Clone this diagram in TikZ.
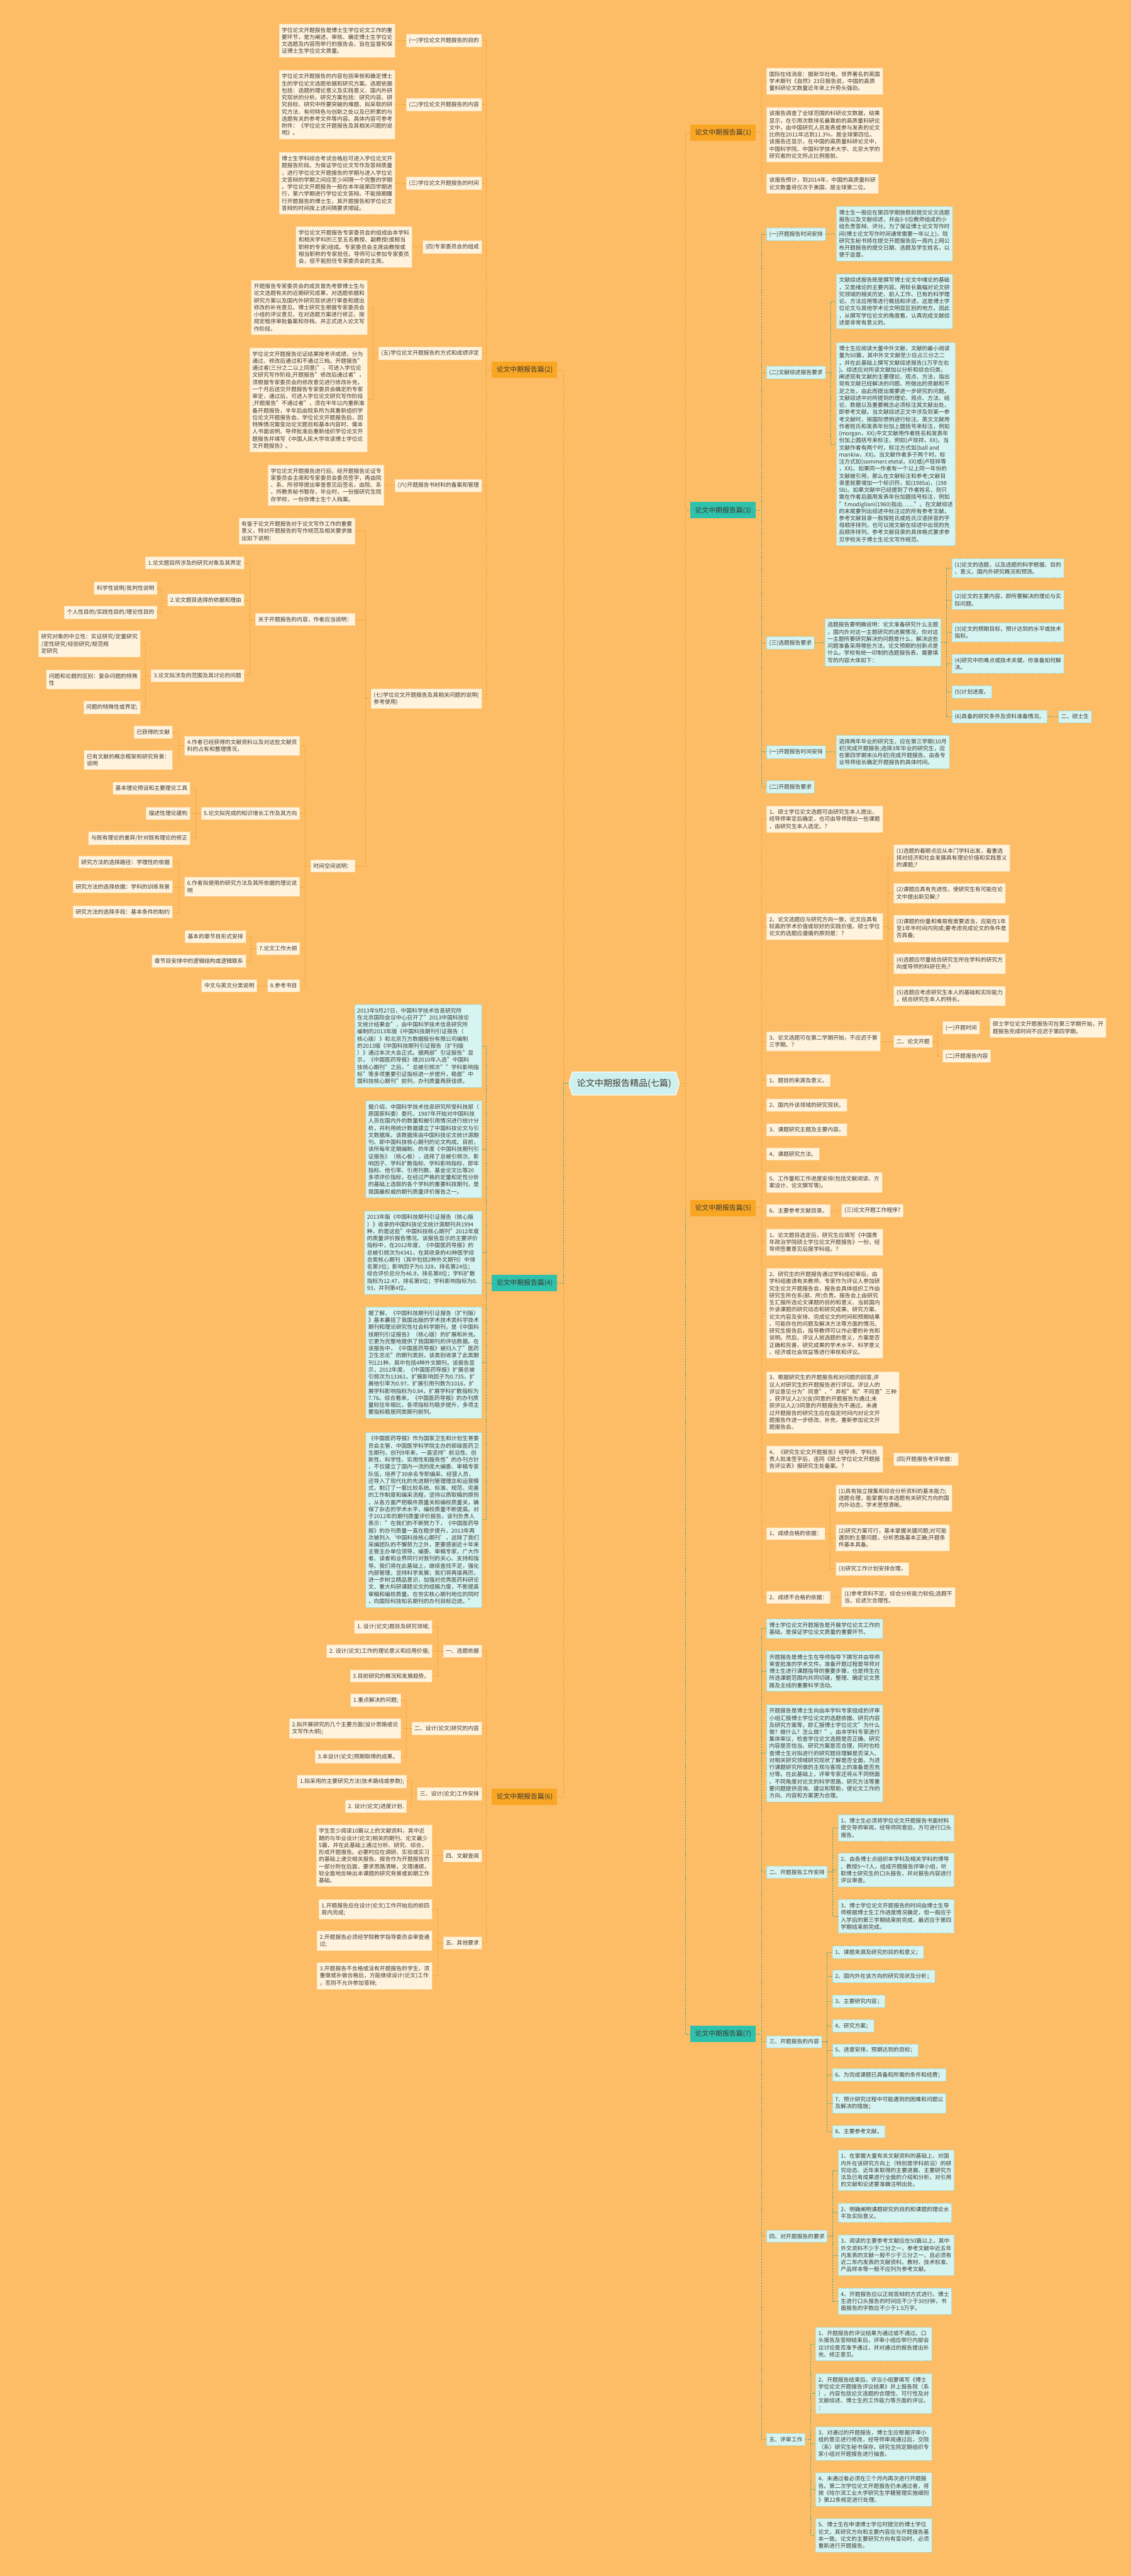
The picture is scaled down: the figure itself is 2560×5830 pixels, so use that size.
\documentclass[tikz,border=0pt]{standalone}
\usepackage{fontspec}
\setmainfont{Noto Sans CJK SC}
\definecolor{paper}{RGB}{253,189,102}
\definecolor{ink}{RGB}{64,56,48}
\definecolor{cream}{RGB}{255,243,221}
\definecolor{creamedge}{RGB}{250,214,160}
\definecolor{mint}{RGB}{214,244,241}
\definecolor{mintedge}{RGB}{150,214,204}
\definecolor{hotorange}{RGB}{248,166,36}
\definecolor{hotteal}{RGB}{46,193,172}
\definecolor{rootfill}{RGB}{206,241,239}
\definecolor{wireorange}{RGB}{238,160,40}
\definecolor{wireteal}{RGB}{56,168,140}

\begin{document}
\begin{tikzpicture}[x=0.75pt,y=-0.75pt,
    txt/.style={font=\fontsize{9.4}{12}\selectfont, text=ink, align=left,
        inner xsep=4.5pt, inner ysep=6pt},
    obox/.style={txt, fill=cream, draw=creamedge, line width=0.8pt,
        dash pattern=on 2pt off 1.5pt},
    tbox/.style={txt, fill=mint, draw=mintedge, line width=0.8pt,
        dash pattern=on 2pt off 1.5pt},
    obranch/.style={fill=hotorange, text=ink, font=\fontsize{11.6}{14}\selectfont,
        minimum width=111pt, minimum height=27.75pt, inner sep=2pt},
    tbranch/.style={obranch, fill=hotteal},
    rootlabel/.style={text=ink, font=\fontsize{15}{18}\selectfont,
        minimum width=187.5pt, minimum height=39pt, inner sep=0pt},
    oline/.style={draw=wireorange, line width=1pt, dash pattern=on 2.5pt off 2pt},
    tline/.style={oline, draw=wireteal}
]
\fill[paper] (0,0) rectangle (2560,5830);
\useasboundingbox (0,0) rectangle (2560,5830);

% centre
\path[fill=rootfill, draw=white, line width=1.2pt] (1288,2452) -- (1296,2426) -- (1530,2426)
    -- (1538,2452) -- (1530,2478) -- (1296,2478) -- cycle;
\node[rootlabel] (root) at (1413,2452) {论文中期报告精品(七篇)};

% branch nodes
\node[obranch, anchor=east] (p2) at (1262,837) {论文中期报告篇(2)};
\node[tbranch, anchor=east] (p4) at (1262,2904) {论文中期报告篇(4)};
\node[obranch, anchor=east] (p6) at (1262,4067) {论文中期报告篇(6)};
\node[obranch, anchor=west] (p1) at (1563,300) {论文中期报告篇(1)};
\node[tbranch, anchor=west] (p3) at (1563,1155) {论文中期报告篇(3)};
\node[obranch, anchor=west] (p5) at (1563,2734) {论文中期报告篇(5)};
\node[tbranch, anchor=west] (p7) at (1563,4603) {论文中期报告篇(7)};

% ---- 篇(2)
\node[obox, anchor=east] (l1) at (1091,92) {(一)学位论文开题报告的目的};
\node[obox, anchor=east] (l2) at (1091,237) {(二)学位论文开题报告的内容};
\node[obox, anchor=east] (l3) at (1091,415) {(三)学位论文开题报告的时间};
\node[obox, anchor=east] (l4) at (1091,559) {(四)专家委员会的组成};
\node[obox, anchor=east] (l5) at (1091,800) {(五)学位论文开题报告的方式和成绩评定};
\node[obox, anchor=east] (l6) at (1091,1099) {(六)开题报告书材料的备案和管理};
\node[obox, anchor=east] (l7) at (1091,1581) {(七)学位论文开题报告及其相关问题的说明(\\参考使用)};

\node[obox, anchor=east] (a1) at (895,92) {学位论文开题报告是博士生学位论文工作的重\\要环节，是为阐述、审核、确定博士生学位论\\文选题及内容而举行的报告会，旨在监督和保\\证博士生学位论文质量。};
\node[obox, anchor=east] (a2) at (895,237) {学位论文开题报告的内容包括审核和确定博士\\生的学位论文选题依据和研究方案。选题依据\\包括：选题的理论意义及实践意义、国内外研\\究现状的分析。研究方案包括：研究内容、研\\究目标、研究中所要突破的难题、拟采取的研\\究方法、有何特色与创新之处以及已积累的与\\选题有关的参考文件等内容。具体内容可参考\\附件：《学位论文开题报告及其相关问题的说\\明》。};
\node[obox, anchor=east] (a3) at (895,415) {博士生学科综合考试合格后可进入学位论文开\\题报告阶段。为保证学位论文写作及答辩质量\\，进行学位论文开题报告的学期与进入学位论\\文答辩的学期之间应至少间隔一个完整的学期\\。学位论文开题报告一般在本年级第四学期进\\行，第六学期进行学位论文答辩。不能按期履\\行开题报告的博士生，其开题报告和学位论文\\答辩的时间按上述间隔要求顺延。};
\node[obox, anchor=east] (a4) at (933,559) {学位论文开题报告专家委员会的组成由本学科\\和相关学科的三至五名教授、副教授(或相当\\职称的专家)组成。专家委员会主席由教授或\\相当职称的专家担任。导师可以参加专家委员\\会，但不能担任专家委员会的主席。};
\node[obox, anchor=east] (a5) at (832,696) {开题报告专家委员会的成员首先考察博士生与\\论文选题有关的近期研究成果，对选题依据和\\研究方案以及国内外研究现状进行审查和提出\\修改的补充意见。博士研究生根据专家委员会\\小组的评议意见，在对选题方案进行修正、按\\规定程序审批备案和存档，并正式进入论文写\\作阶段。};
\node[obox, anchor=east] (a6) at (832,905) {学位论文开题报告论证结果按考评成绩，分为\\通过、修改后通过和不通过三档。开题报告"\\通过者(三分之二以上同意)"，可进入学位论\\文研究写作阶段;开题报告"修改后通过者"，\\须根据专家委员会的修改意见进行修改补充，\\一个月后送交开题报告专家委员会确定的专家\\审定，通过后，可进入学位论文研究写作阶段\\;开题报告"不通过者"，须在半年以内重新准\\备开题报告，半年后由院系所为其重新组织学\\位论文开题报告会。学位论文开题报告后，因\\特殊情况需变动论文题目和基本内容时，需本\\人书面说明、导师批准后重新组织学位论文开\\题报告并填写《中国人民大学攻读博士学位论\\文开题报告》。};
\node[obox, anchor=east] (a7) at (870,1098) {学位论文开题报告进行后，经开题报告论证专\\家委员会主席和专家委员会委员签字，再由院\\、系、所领导提出审查意见后签名，由院、系\\、所教务秘书暂存，毕业时，一份报研究生院\\存学校，一份存博士生个人档案。};

\node[obox, anchor=east] (b1) at (804,1202) {有鉴于论文开题报告对于论文写作工作的重要\\意义，特对开题报告的写作规范及相关要求做\\出如下说明：};
\node[obox, anchor=east] (b2) at (804,1402) {关于开题报告的内容，作者应当说明：};
\node[obox, anchor=east] (b3) at (804,1960) {时间空间说明：};

\node[obox, anchor=east] (c1) at (553,1274) {1.论文题目所涉及的研究对象及其界定};
\node[obox, anchor=east] (c2) at (553,1358) {2.论文题目选择的依据和理由};
\node[obox, anchor=east] (c3) at (553,1529) {3.论文拟涉及的范围及其讨论的问题};
\node[obox, anchor=east] (d1) at (356,1331) {科学性说明/批判性说明};
\node[obox, anchor=east] (d2) at (356,1386) {个人性目的/实践性目的/理论性目的};
\node[obox, anchor=east] (d3) at (318,1457) {研究对象的中立性：实证研究/定量研究\\/定性研究/经验研究/规范规\\定研究};
\node[obox, anchor=east] (d4) at (318,1538) {问题和论题的区别：复杂问题的特殊\\性};
\node[obox, anchor=east] (d5) at (318,1601) {问题的特殊性或界定;};

\node[obox, anchor=east] (c4) at (679,1688) {4.作者已经获得的文献资料以及对这些文献资\\料的占有和整理情况，};
\node[obox, anchor=east] (c5) at (679,1841) {5.论文拟完成的知识增长工作及其方向};
\node[obox, anchor=east] (c6) at (679,2007) {6.作者拟使用的研究方法及其所依据的理论说\\明};
\node[obox, anchor=east] (c7) at (679,2147) {7.论文工作大纲};
\node[obox, anchor=east] (c8) at (679,2231) {8.参考书目};
\node[obox, anchor=east] (e1) at (391,1657) {已获得的文献};
\node[obox, anchor=east] (e2) at (391,1720) {已有文献的概念框架和研究背景：\\说明};
\node[obox, anchor=east] (e3) at (431,1784) {基本理论预设和主要理论工具};
\node[obox, anchor=east] (e4) at (431,1841) {描述性理论建构};
\node[obox, anchor=east] (e5) at (431,1897) {与既有理论的差异/针对既有理论的修正};
\node[obox, anchor=east] (e6) at (391,1951) {研究方法的选择路径：学理性的依据};
\node[obox, anchor=east] (e7) at (391,2007) {研究方法的选择依据：学科的训练背景};
\node[obox, anchor=east] (e8) at (391,2064) {研究方法的选择手段：基本条件的制约};
\node[obox, anchor=east] (e9) at (557,2120) {基本的章节目形式安排};
\node[obox, anchor=east] (e10) at (557,2175) {章节目安排中的逻辑结构或逻辑联系};
\node[obox, anchor=east] (e11) at (582,2231) {中文与英文分类说明};

% ---- 篇(4)
\node[tbox, anchor=east] (q1) at (1091,2367) {2013年9月27日，中国科学技术信息研究所\\在北京国际会议中心召开了"2013中国科技论\\文统计结果会"，由中国科学技术信息研究所\\编制的2013年版《中国科技期刊引证报告（\\核心版）》和北京万方数据股份有限公司编制\\的2013版《中国科技期刊引证报告（扩刊版\\）》通过本次大会正式。据两部"引证报告"显\\示，《中国医药导报》继2010年入选"中国科\\技核心期刊"之后，"总被引频次""学科影响指\\标"等多项重要引证指标进一步提升，稳居"中\\国科技核心期刊"前列，办刊质量再获佳绩。};
\node[tbox, anchor=east] (q2) at (1091,2601) {据介绍，中国科学技术信息研究所受科技部（\\原国家科委）委托，1987年开始对中国科技\\人员在国内外的数量和被引用情况进行统计分\\析，并利用统计数据建立了中国科技论文与引\\文数据库。该数据库由中国科技论文统计源期\\刊、即中国科技核心期刊的论文构成。目前，\\该所每年定期编制、的年度《中国科技期刊引\\证报告》（核心板），选择了总被引频次、影\\响因子、学科扩散指标、学科影响指标、即年\\指标、他引率、引用刊数、基金论文比等20\\多项评价指标，在经过严格的定量和定性分析\\的基础上选取的各个学科的重要科技期刊，是\\我国最权威的期刊质量评价报告之一。};
\node[tbox, anchor=east] (q3) at (1091,2835) {2013年版《中国科技期刊引证报告（核心版\\）》收录的中国科技论文统计源期刊共1994\\种，的是这些"中国科技核心期刊"2012年度\\的质量评价报告情况。该报告显示的主要评价\\指标中，在2012年度，《中国医药导报》的\\总被引频次为4341，在其收录的43种医学综\\合类核心期刊（其中包括2种外文期刊）中排\\名第3位；影响因子为0.328，排名第24位；\\综合评价总分为46.9，排名第8位；学科扩散\\指标为12.47，排名第8位；学科影响指标为0.\\93，并列第4位。};
\node[tbox, anchor=east] (q4) at (1091,3084) {据了解，《中国科技期刊引证报告（扩刊版）\\》基本囊括了我国出版的学术技术类科学技术\\期刊和理论研究性社会科学期刊，是《中国科\\技期刊引证报告》（核心版）的扩展和补充。\\它更为完整地提供了我国期刊的评估数据。在\\该报告中，《中国医药导报》被归入了"医药\\卫生总论"的期刊类别，该类别收录了此类期\\刊121种，其中包括4种外文期刊。该报告显\\示，2012年度，《中国医药导报》扩展总被\\引频次为13361，扩展影响因子为0.735，扩\\展他引率为0.97，扩展引用刊数为1016，扩\\展学科影响指标为0.84，扩展学科扩散指标为\\7.76。综合看来，《中国医药导报》的办刊质\\量较往年相比，各项指标均稳步提升，多项主\\要指标稳居同类期刊前列。};
\node[tbox, anchor=east] (q5) at (1091,3440) {《中国医药导报》作为国家卫生和计划生育委\\员会主管、中国医学科学院主办的部级医药卫\\生期刊，创刊9年来，一直坚持"前沿性、创\\新性、科学性、实用性和服务性"的办刊方针\\，不仅建立了国内一流的庞大编委、审稿专家\\队伍，培养了30余名专职编采、经营人员，\\还导入了现代化的先进期刊管理理念和运营模\\式，制订了一套比较系统、标准、规范、完善\\的工作制度和编采流程，坚持以质取稿的原则\\，从各方面严把稿件质量关和编校质量关，确\\保了杂志的学术水平，编校质量不断提高。对\\于2012年的期刊质量评价报告，该刊负责人\\表示："在我们的不断努力下，《中国医药导\\报》的办刊质量一直在稳步提升，2013年再\\次被列入‘中国科技核心期刊’，这除了我们\\采编团队的不懈努力之外，更要感谢近十年来\\主管主办单位领导，编委、审稿专家，广大作\\者、读者和业界同行对我刊的关心、支持和指\\导。我们将在此基础上，继续查找不足，强化\\内部管理，坚持科学发展；我们将再接再厉，\\进一步树立精品意识，加强对优秀医药科研论\\文、重大科研课题论文的组稿力度，不断提高\\审稿和编校质量。在夯实核心期刊地位的同时\\，向国际科技知名期刊的办刊目标迈进。"};

% ---- 篇(6)
\node[obox, anchor=east] (f1) at (1091,3737) {一、选题依据};
\node[obox, anchor=east] (f2) at (1091,3912) {二、设计(论文)研究的内容};
\node[obox, anchor=east] (f3) at (1091,4060) {三、设计(论文)工作安排};
\node[obox, anchor=east] (f4) at (1091,4200) {四、文献查阅};
\node[obox, anchor=east] (f5) at (1091,4397) {五、其他要求};
\node[obox, anchor=east] (g1) at (979,3682) {1. 设计(论文)题目及研究领域;};
\node[obox, anchor=east] (g2) at (979,3737) {2. 设计(论文)工作的理论意义和应用价值;};
\node[obox, anchor=east] (g3) at (979,3793) {3.目前研究的概况和发展趋势。};
\node[obox, anchor=east] (g4) at (908,3848) {1.重点解决的问题;};
\node[obox, anchor=east] (g5) at (908,3912) {2.拟开展研究的几个主要方面(设计思路或论\\文写作大纲);};
\node[obox, anchor=east] (g6) at (908,3976) {3.本设计(论文)预期取得的成果。};
\node[obox, anchor=east] (g7) at (921,4032) {1.拟采用的主要研究方法(技术路线或参数);};
\node[obox, anchor=east] (g8) at (921,4088) {2. 设计(论文)进度计划.};
\node[obox, anchor=east] (g9) at (979,4200) {学生至少阅读10篇以上的文献资料，其中近\\期的与毕业设计(论文)相关的期刊、论文最少\\5篇，并在此基础上通过分析、研究、综合，\\形成开题报告。必要时应在调研、实验或实习\\的基础上递交相关报告。报告作为开题报告的\\一部分附在后面，要求思路清晰，文理通顺，\\较全面地反映出本课题的研究背景或前期工作\\基础。};
\node[obox, anchor=east] (g10) at (979,4321) {1.开题报告应在设计(论文)工作开始后的前四\\周内完成;};
\node[obox, anchor=east] (g11) at (979,4392) {2.开题报告必须经学院教学指导委员会审查通\\过;};
\node[obox, anchor=east] (g12) at (979,4472) {3.开题报告不合格或没有开题报告的学生，须\\重做或补做合格后，方能继续设计(论文)工作\\，否则不允许参加答辩;};

% ---- 篇(1)
\node[obox, anchor=west] (h1) at (1735,184) {国际在线消息：据新华社电，世界著名的英国\\学术期刊《自然》23日报告说，中国的高质\\量科研论文数量近年来上升势头强劲。};
\node[obox, anchor=west] (h2) at (1735,305) {该报告调查了全球范围的科研论文数据，结果\\显示，在引用次数排名最靠前的高质量科研论\\文中，由中国研究人员发表或参与发表的论文\\比例在2011年达到11.3\%，居全球第四位。\\该报告还显示，在中国的高质量科研论文中，\\中国科学院、中国科学技术大学、北京大学的\\研究者的论文所占比例居前。};
\node[obox, anchor=west] (h3) at (1735,416) {该报告预计，到2014年，中国的高质量科研\\论文数量将仅次于美国，居全球第二位。};

% ---- 篇(3)
\node[tbox, anchor=west] (i1) at (1735,530) {(一)开题报告时间安排};
\node[tbox, anchor=west] (i2) at (1735,843) {(二)文献综述报告要求};
\node[tbox, anchor=west] (i3) at (1735,1455) {(三)选题报告要求};
\node[tbox, anchor=west] (i4) at (1735,1702) {(一)开题报告时间安排};
\node[tbox, anchor=west] (i5) at (1735,1781) {(二)开题报告要求};
\node[tbox, anchor=west] (j1) at (1893,529) {博士生一般应在第四学期放假前提交论文选题\\报告以及文献综述，并由3-5位教师组成的小\\组负责答辩、评分。为了保证博士论文写作时\\间(博士论文写作时间通常需要一年以上)，院\\研究生秘书将在提交开题报告后一周内上网公\\布开题报告的提交日期、选题及学生姓名，以\\便于监督。};
\node[tbox, anchor=west] (j2) at (1893,682) {文献综述报告既是撰写博士论文中绪论的基础\\，又是绪论的主要内容。用较长篇幅对论文研\\究领域的相关历史、前人工作、已有的科学理\\论、方法应用等进行概括和评述，这是博士学\\位论文与其他学术论文明显区别的地方。因此\\，从撰写学位论文的角度看，认真完成文献综\\述是非常有意义的。};
\node[tbox, anchor=west] (j3) at (1893,1005) {博士生应阅读大量中外文献，文献的最小阅读\\量为50篇，其中外文文献至少应占三分之二\\，并在此基础上撰写文献综述报告(1万字左右\\)。综述应对所读文献加以分析和综合归类，\\阐述现有文献的主要理论、观点、方法，指出\\现有文献已经解决的问题、所做出的贡献和不\\足之处，由此而提出需要进一步研究的问题。\\文献综述中对所提到的理论、观点、方法、结\\论、数据以及重要概念必须标注其文献出处，\\即参考文献。当文献综述正文中涉及到某一参\\考文献时，按国际惯例进行标注。英文文献用\\作者姓氏和发表年份加上圆括号来标注，例如\\(morgan，XX);中文文献用作者姓名和发表年\\份加上圆括号来标注，例如(卢现祥，XX)。当\\文献作者有两个时，标注方式如(ball and\\mankiw，XX)。当文献作者多于两个时，标\\注方式如(sommers etetal，XX)或(卢现祥等\\，XX)。如果同一作者有一个以上同一年份的\\文献被引用，那么在文献标注和参考;文献目\\录里就要增加一个标识符，如(1985a)，(198\\5b)。如果文献中已经提到了作者姓名，则只\\需在作者后面用发表年份加圆括号标注，例如\\"f.modigliani(1960)指出……"。在文献综述\\的末尾要列出综述中标注过的所有参考文献，\\参考文献目录一般按姓氏或姓氏汉语拼音的字\\母顺序排列，也可以按文献在综述中出现的先\\后顺序排列，参考文献目录的具体格式要求参\\见学校关于博士生论文写作规范。};
\node[tbox, anchor=west] (j4) at (1867,1454) {选题报告要明确说明：论文准备研究什么主题\\，国内外对这一主题研究的进展情况，你对这\\一主题所要研究解决的问题是什么，解决这些\\问题准备采用哪些方法。论文预期的创新点是\\什么。学校有统一印制的选题报告表，需要填\\写的内容大体如下：};
\node[tbox, anchor=west] (j5) at (1893,1702) {选择两年毕业的研究生，应在第三学期(10月\\初)完成开题报告;选择3年毕业的研究生，应\\在第四学期末(6月初)完成开题报告。由各专\\业导师组长确定开题报告的具体时间。};
\node[tbox, anchor=west] (k1) at (2155,1286) {(1)论文的选题，以及选题的科学根据、目的\\、意义、国内外研究概况和预测。};
\node[tbox, anchor=west] (k2) at (2155,1358) {(2)论文的主要内容，即所要解决的理论与实\\际问题。};
\node[tbox, anchor=west] (k3) at (2155,1431) {(3)论文的预期目标，预计达到的水平或技术\\指标。};
\node[tbox, anchor=west] (k4) at (2155,1502) {(4)研究中的难点或技术关键，你准备如何解\\决。};
\node[tbox, anchor=west] (k5) at (2155,1566) {(5)计划进度。};
\node[tbox, anchor=west] (k6) at (2155,1622) {(6)具备的研究条件及资料准备情况。};
\node[tbox, anchor=west] (k7) at (2396,1622) {二、硕士生};

% ---- 篇(5)
\node[obox, anchor=west] (m1) at (1735,1854) {1、硕士学位论文选题可由研究生本人提出，\\经导师审定后确定，也可由导师提出一些课题\\，由研究生本人选定。？};
\node[obox, anchor=west] (m2) at (1735,2097) {2、论文选题应与研究方向一致，论文应具有\\较高的学术价值或较好的实践价值，硕士学位\\论文的选题应遵循的原则是：？};
\node[obox, anchor=west] (m3) at (1735,2357) {3、论文选题可在第二学期开始，不应迟于第\\三学期。？};
\node[obox, anchor=west] (m4) at (1735,2445) {1、题目的来源及意义。};
\node[obox, anchor=west] (m5) at (1735,2501) {2、国内外该领域的研究现状。};
\node[obox, anchor=west] (m6) at (1735,2557) {3、课题研究主题及主要内容。};
\node[obox, anchor=west] (m7) at (1735,2612) {4、课题研究方法。};
\node[obox, anchor=west] (m8) at (1735,2676) {5、工作量和工作进度安排(包括文献阅读、方\\案设计、论文撰写等)。};
\node[obox, anchor=west] (m9) at (1735,2740) {6、主要参考文献目录。};
\node[obox, anchor=west] (m10) at (1735,2811) {1、论文题目选定后，研究生应填写《中国青\\年政治学院硕士学位论文开题报告》一份，经\\导师签署意见后报学科组。？};
\node[obox, anchor=west] (m11) at (1735,2972) {2、研究生的开题报告通过学科组初审后，由\\学科组邀请有关教师、专家作为评议人参加研\\究生论文开题报告会，报告会具体组织工作由\\研究生所在系(部、所)负责。报告会上由研究\\生汇报所选论文课题的目的和意义、当前国内\\外该课题的研究动态和研究成果、研究方案、\\论文内容及安排、完成论文的时间和预期结果\\、可能存在的问题及解决方法等方面的情况。\\研究生报告后，指导教师可以作必要的补充和\\说明。然后，评议人就选题的意义，方案是否\\正确和完善，研究成果的学术水平、科学意义\\、经济或社会效益等进行审核和评议。};
\node[obox, anchor=west] (m12) at (1735,3174) {3、根据研究生的开题报告和对问题的回答,评\\议人对研究生的开题报告进行评议。评议人的\\评议意见分为"同意"、"弃权"和"不同意"三种\\。获评议人2/3(含)同意的开题报告为通过;未\\获评议人2/3同意的开题报告为不通过。未通\\过开题报告的研究生应在指定时间内对论文开\\题报告作进一步修改、补充，重新参加论文开\\题报告会。};
\node[obox, anchor=west] (m13) at (1735,3302) {4、《研究生论文开题报告》经导师、学科负\\责人批准签字后，连同《硕士学位论文开题报\\告评议表》报研究生处备案。？};
\node[obox, anchor=west] (m14) at (1735,3471) {1、成绩合格的依据：};
\node[obox, anchor=west] (m15) at (1735,3615) {2、成绩不合格的依据：};
\node[obox, anchor=west] (n1) at (2023,1942) {(1)选题的着眼点应从本门学科出发，着重选\\择对经济和社会发展具有理论价值和实践意义\\的课题;？};
\node[obox, anchor=west] (n2) at (2023,2022) {(2)课题应具有先进性，使研究生有可能在论\\文中提出新见解;？};
\node[obox, anchor=west] (n3) at (2023,2102) {(3)课题的份量和难易程度要适当，应能在1年\\至1年半时间内完成;要考虑完成论文的条件是\\否具备;};
\node[obox, anchor=west] (n4) at (2023,2181) {(4)选题应尽量结合研究生所在学科的研究方\\向或导师的科研任务;？};
\node[obox, anchor=west] (n5) at (2023,2254) {(5)选题应考虑研究生本人的基础和实际能力\\，结合研究生本人的特长。};
\node[obox, anchor=west] (n6) at (2023,2357) {二、论文开题};
\node[obox, anchor=west] (o1) at (2134,2326) {(一)开题时间};
\node[obox, anchor=west] (o2) at (2241,2326) {硕士学位论文开题报告可在第三学期开始，开\\题报告完成时间不应迟于第四学期。};
\node[obox, anchor=west] (o3) at (2134,2390) {(二)开题报告内容};
\node[obox, anchor=west] (n7) at (1905,2740) {(三)论文开题工作程序?};
\node[obox, anchor=west] (n8) at (2023,3303) {(四)开题报告考评依据：};
\node[obox, anchor=west] (n9) at (1892,3391) {(1)具有独立搜集和综合分析资料的基本能力;\\选题合理，能掌握与本选题有关研究方向的国\\内外动态，学术思想清晰。};
\node[obox, anchor=west] (n10) at (1892,3480) {(2)研究方案可行，基本掌握关键问题;对可能\\遇到的主要问题，分析思路基本正确;开题条\\件基本具备。};
\node[obox, anchor=west] (n11) at (1892,3551) {(3)研究工作计划安排合理。};
\node[obox, anchor=west] (n12) at (1905,3615) {(1)参考资料不足，综合分析能力较低;选题不\\当，论述欠合理性。};

% ---- 篇(7)
\node[tbox, anchor=west] (s1) at (1735,3686) {博士学位论文开题报告是开展学位论文工作的\\基础，是保证学位论文质量的重要环节。};
\node[tbox, anchor=west] (s2) at (1735,3782) {开题报告是博士生在导师指导下撰写并由导师\\审查批准的学术文件。准备开题过程是导师对\\博士生进行课题指导的重要步骤，也是师生在\\所选课题范围内共同切磋，整理、确定论文思\\路及主线的重要科学活动。};
\node[tbox, anchor=west] (s3) at (1735,3968) {开题报告是博士生向由本学科专家组成的评审\\小组汇报博士学位论文的选题依据、研究内容\\及研究方案等，即汇报博士学位论文"为什么\\做？做什么？怎么做？"。由本学科专家进行\\集体审议，检查学位论文选题是否正确、研究\\内容是否恰当、研究方案是否合理，同时也检\\查博士生对拟进行的研究题目理解是否深入、\\对相关研究领域研究现状了解是否全面、为进\\行课题研究所做的主观与客观上的准备是否充\\分等。在此基础上，评审专家还将从不同侧面\\、不同角度对论文的科学思路、研究方法等重\\要问题提供咨询、建议和帮助，使论文工作的\\方向、内容和方案更为合理。};
\node[tbox, anchor=west] (s4) at (1735,4237) {二、开题报告工作安排};
\node[tbox, anchor=west] (s5) at (1735,4621) {三、开题报告的内容};
\node[tbox, anchor=west] (s6) at (1735,5061) {四、对开题报告的要求};
\node[tbox, anchor=west] (s7) at (1735,5521) {五、评审工作};
\node[tbox, anchor=west] (r1) at (1897,4137) {1、博士生必须将学位论文开题报告书面材料\\提交导师审阅，经导师同意后，方可进行口头\\报告。};
\node[tbox, anchor=west] (r2) at (1897,4232) {2、由各博士点组织本学科及相关学科的博导\\、教授5～7人，组成开题报告评审小组，听\\取博士研究生的口头报告，并对报告内容进行\\评议审查。};
\node[tbox, anchor=west] (r3) at (1897,4337) {3、博士学位论文开题报告的时间由博士生导\\师根据博士生工作进度情况确定，但一般应于\\入学后的第三学期结束前完成，最迟应于第四\\学期结束前完成。};
\node[tbox, anchor=west] (t1) at (1884,4418) {1、课题来源及研究的目的和意义；};
\node[tbox, anchor=west] (t2) at (1884,4473) {2、国内外在该方向的研究现状及分析；};
\node[tbox, anchor=west] (t3) at (1884,4529) {3、主要研究内容；};
\node[tbox, anchor=west] (t4) at (1884,4585) {4、研究方案；};
\node[tbox, anchor=west] (t5) at (1884,4640) {5、进度安排，预期达到的目标；};
\node[tbox, anchor=west] (t6) at (1884,4696) {6、为完成课题已具备和所需的条件和经费；};
\node[tbox, anchor=west] (t7) at (1884,4760) {7、预计研究过程中可能遇到的困难和问题以\\及解决的措施；};
\node[tbox, anchor=west] (t8) at (1884,4824) {8、主要参考文献。};
\node[tbox, anchor=west] (u1) at (1897,4912) {1、在掌握大量有关文献资料的基础上，对国\\内外在该研究方向上（特别是学科前沿）的研\\究动态、近年来取得的主要进展、主要研究方\\法及已有成果进行全面的介绍和分析，对引用\\的文献和论述要准确注明出处。};
\node[tbox, anchor=west] (u2) at (1897,5008) {2、明确阐明课题研究的目的和课题的理论水\\平及实际意义。};
\node[tbox, anchor=west] (u3) at (1897,5104) {3、阅读的主要参考文献应在50篇以上，其中\\外文资料不少于二分之一，参考文献中近五年\\内发表的文献一般不少于三分之一，且必须有\\近二年内发表的文献资料。教材、技术标准、\\产品样本等一般不应列为参考文献。};
\node[tbox, anchor=west] (u4) at (1897,5208) {4、开题报告应以正规答辩的方式进行。博士\\生进行口头报告的时间应不少于30分钟，书\\面报告的字数应不少于1.5万字。};
\node[tbox, anchor=west] (v1) at (1846,5305) {1、开题报告的评议结果为通过或不通过。口\\头报告及答辩结束后，评审小组应举行内部会\\议讨论是否准予通过，并对通过的报告提出补\\充、修正意见。};
\node[tbox, anchor=west] (v2) at (1846,5417) {2、开题报告结束后，评议小组要填写《博士\\学位论文开题报告评议结果》并上报各院（系\\），内容包括论文选题的合理性、可行性及对\\文献综述、博士生的工作能力等方面的评议。\\：};
\node[tbox, anchor=west] (v3) at (1846,5530) {3、对通过的开题报告，博士生应根据评审小\\组的意见进行修改，经导师审阅通过后，交院\\（系）研究生秘书保存。研究生院定期组织专\\家小组对开题报告进行抽查。};
\node[tbox, anchor=west] (v4) at (1846,5634) {4、未通过者必须在三个月内再次进行开题报\\告。第二次学位论文开题报告仍未通过者，将\\按《哈尔滨工业大学研究生学籍管理实施细则\\》第22条规定进行处理。};
\node[tbox, anchor=west] (v5) at (1846,5738) {5、博士生在申请博士学位时提交的博士学位\\论文，其研究方向和主要内容应与开题报告基\\本一致。论文的主要研究方向有变动时，必须\\重新进行开题报告。};

% connectors, left side
\foreach \b in {p2,p6} \draw[oline] (root.west) -- ++(-9pt,0) |- (\b.east);
\draw[tline] (root.west) -- ++(-9pt,0) |- (p4.east);
\foreach \c in {l1,l2,l3,l4,l5,l6,l7} \draw[oline] (p2.west) -- ++(-9pt,0) |- (\c.east);
\draw[oline] (l1.west) -- (a1.east);
\draw[oline] (l2.west) -- (a2.east);
\draw[oline] (l3.west) -- (a3.east);
\draw[oline] (l4.west) -- (a4.east);
\foreach \c in {a5,a6} \draw[oline] (l5.west) -- ++(-9pt,0) |- (\c.east);
\draw[oline] (l6.west) -- (a7.east);
\foreach \c in {b1,b2,b3} \draw[oline] (l7.west) -- ++(-9pt,0) |- (\c.east);
\foreach \c in {c1,c2,c3} \draw[oline] (b2.west) -- ++(-9pt,0) |- (\c.east);
\foreach \c in {d1,d2} \draw[oline] (c2.west) -- ++(-9pt,0) |- (\c.east);
\foreach \c in {d3,d4,d5} \draw[oline] (c3.west) -- ++(-9pt,0) |- (\c.east);
\foreach \c in {c4,c5,c6,c7,c8} \draw[oline] (b3.west) -- ++(-9pt,0) |- (\c.east);
\foreach \c in {e1,e2} \draw[oline] (c4.west) -- ++(-9pt,0) |- (\c.east);
\foreach \c in {e3,e4,e5} \draw[oline] (c5.west) -- ++(-9pt,0) |- (\c.east);
\foreach \c in {e6,e7,e8} \draw[oline] (c6.west) -- ++(-9pt,0) |- (\c.east);
\foreach \c in {e9,e10} \draw[oline] (c7.west) -- ++(-9pt,0) |- (\c.east);
\draw[oline] (c8.west) -- (e11.east);
\foreach \c in {q1,q2,q3,q4,q5} \draw[tline] (p4.west) -- ++(-9pt,0) |- (\c.east);
\foreach \c in {f1,f2,f3,f4,f5} \draw[oline] (p6.west) -- ++(-9pt,0) |- (\c.east);
\foreach \c in {g1,g2,g3} \draw[oline] (f1.west) -- ++(-9pt,0) |- (\c.east);
\foreach \c in {g4,g5,g6} \draw[oline] (f2.west) -- ++(-9pt,0) |- (\c.east);
\foreach \c in {g7,g8} \draw[oline] (f3.west) -- ++(-9pt,0) |- (\c.east);
\draw[oline] (f4.west) -- (g9.east);
\foreach \c in {g10,g11,g12} \draw[oline] (f5.west) -- ++(-9pt,0) |- (\c.east);

% connectors, right side
\draw[tline] (root.east) -- ++(10pt,0) |- (p3.west);
\draw[oline] (root.east) -- ++(10pt,0) |- (p1.west);
\draw[tline] (root.east) -- ++(10pt,0) |- (p7.west);
\draw[oline] (root.east) -- ++(10pt,0) |- (p5.west);
\foreach \c in {h1,h2,h3} \draw[oline] (p1.east) -- ++(10pt,0) |- (\c.west);
\foreach \c in {i1,i2,i3,i4,i5} \draw[tline] (p3.east) -- ++(10pt,0) |- (\c.west);
\draw[tline] (i1.east) -- (j1.west);
\foreach \c in {j2,j3} \draw[tline] (i2.east) -- ++(9pt,0) |- (\c.west);
\draw[tline] (i3.east) -- (j4.west);
\foreach \c in {k1,k2,k3,k4,k5,k6} \draw[tline] (j4.east) -- ++(9pt,0) |- (\c.west);
\draw[tline] (k6.east) -- (k7.west);
\draw[tline] (i4.east) -- (j5.west);
\foreach \c in {m1,m2,m3,m4,m5,m6,m7,m8,m9,m10,m11,m12,m13,m14,m15}
    \draw[oline] (p5.east) -- ++(10pt,0) |- (\c.west);
\foreach \c in {n1,n2,n3,n4,n5} \draw[oline] (m2.east) -- ++(9pt,0) |- (\c.west);
\draw[oline] (m3.east) -- (n6.west);
\foreach \c in {o1,o3} \draw[oline] (n6.east) -- ++(9pt,0) |- (\c.west);
\draw[oline] (o1.east) -- (o2.west);
\draw[oline] (m9.east) -- (n7.west);
\draw[oline] (m13.east) -- (n8.west);
\foreach \c in {n9,n10,n11} \draw[oline] (m14.east) -- ++(9pt,0) |- (\c.west);
\draw[oline] (m15.east) -- (n12.west);
\foreach \c in {s1,s2,s3,s4,s5,s6,s7} \draw[tline] (p7.east) -- ++(10pt,0) |- (\c.west);
\foreach \c in {r1,r2,r3} \draw[tline] (s4.east) -- ++(9pt,0) |- (\c.west);
\foreach \c in {t1,t2,t3,t4,t5,t6,t7,t8} \draw[tline] (s5.east) -- ++(9pt,0) |- (\c.west);
\foreach \c in {u1,u2,u3,u4} \draw[tline] (s6.east) -- ++(9pt,0) |- (\c.west);
\foreach \c in {v1,v2,v3,v4,v5} \draw[tline] (s7.east) -- ++(9pt,0) |- (\c.west);
\end{tikzpicture}
\end{document}
